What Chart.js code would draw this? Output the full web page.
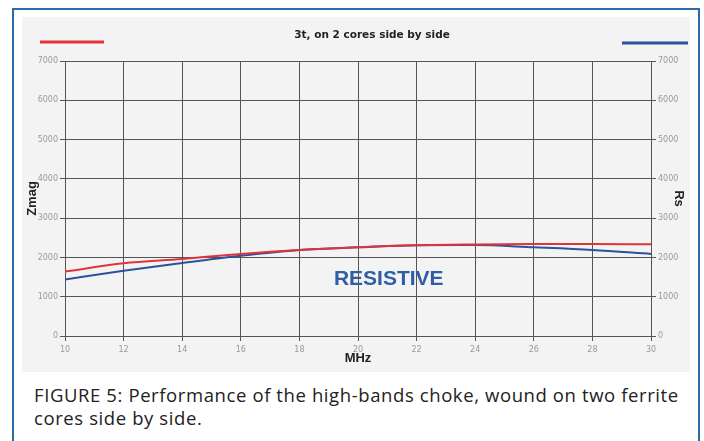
<!DOCTYPE html>
<html>
<head>
<meta charset="utf-8">
<script src="https://cdn.jsdelivr.net/npm/chart.js@4"></script>
<style>
  html, body { margin: 0; padding: 0; background: #fff; }
  body { width: 704px; height: 441px; position: relative; overflow: hidden; }
  #frame {
    position: absolute; left: 12px; top: 8px; width: 684px; height: 440px;
    border: 2px solid #2f6aa8; border-bottom: none; background: #fff;
  }
  #chart { position: absolute; left: 22px; top: 17px; background: #f3f3f3; }
  #caption {
    position: absolute; left: 34px; top: 383px; width: 660px;
    font-family: "Open Sans", Roboto, sans-serif; font-size: 18.5px;
    letter-spacing: 0.6px; line-height: 23px; color: #222;
  }
</style>
</head>
<body>
<div id="frame"></div>
<canvas id="chart" width="668" height="355"></canvas>
<div id="caption">FIGURE 5: Performance of the high-bands choke, wound on two ferrite cores side by side.</div>
<script>
// データ
const freqs = [10, 12, 14, 16, 18, 20, 22, 24, 26, 28, 30];
const zmag = [1640, 1850, 1960, 2090, 2190, 2260, 2310, 2330, 2340, 2340, 2335];
const rs = [1440, 1660, 1860, 2045, 2190, 2257, 2310, 2315, 2257, 2190, 2090];
const chartTitle = "3t, on 2 cores side by side";
const note = { text: "RESISTIVE", x: 21.05, y: 1450 };

// タイトル、凡例の線、注記を描く
const decor = {
  id: "decor",
  afterDraw(chart) {
    const ctx = chart.ctx;
    const ds = chart.data.datasets;
    ctx.save();
    ctx.fillStyle = "#222";
    ctx.font = "bold 10.5px 'DejaVu Sans'";
    ctx.textAlign = "center";
    ctx.textBaseline = "middle";
    ctx.fillText(chartTitle, 350, 18);

    ctx.lineWidth = 3;
    ctx.strokeStyle = ds[0].borderColor;
    ctx.beginPath(); ctx.moveTo(18, 25); ctx.lineTo(82, 25); ctx.stroke();
    ctx.strokeStyle = ds[1].borderColor;
    ctx.beginPath(); ctx.moveTo(600, 26); ctx.lineTo(666, 26); ctx.stroke();

    const sx = chart.scales.x, sy = chart.scales.y;
    ctx.fillStyle = "#2f5ea6";
    ctx.font = "bold 21px 'Liberation Sans'";
    ctx.fillText(note.text, sx.getPixelForValue(note.x), sy.getPixelForValue(note.y));
    ctx.restore();
  },
};

const tickFont = { family: "DejaVu Sans", size: 8 };
const titleFont = { family: "Liberation Sans", size: 13, weight: "bold" };
const gridOpts = { color: "#555", lineWidth: 1, tickLength: 5, tickColor: "#555" };
const plain = (v) => String(v);

new Chart(document.getElementById("chart"), {
  type: "line",
  data: {
    labels: freqs,
    datasets: [
      {
        label: "Zmag",
        data: freqs.map((f, i) => ({ x: f, y: zmag[i] })),
        borderColor: "#e0343c",
        borderWidth: 2,
        pointRadius: 0,
        tension: 0.4,
        cubicInterpolationMode: "monotone",
        yAxisID: "y",
      },
      {
        label: "Rs",
        data: freqs.map((f, i) => ({ x: f, y: rs[i] })),
        borderColor: "#2d519e",
        borderWidth: 2,
        pointRadius: 0,
        tension: 0.4,
        cubicInterpolationMode: "monotone",
        yAxisID: "y2",
      },
    ],
  },
  options: {
    responsive: false,
    animation: false,
    layout: { padding: { top: 44, left: 0, right: 0, bottom: 0 } },
    plugins: { legend: { display: false }, title: { display: false }, tooltip: { enabled: false } },
    scales: {
      x: {
        type: "linear", min: 10, max: 30,
        ticks: { stepSize: 2, font: tickFont, color: "#999", padding: 4, callback: plain },
        grid: gridOpts,
        border: { color: "#555" },
        title: { display: true, text: "MHz", color: "#222", font: titleFont, padding: { top: 0, bottom: 6 } },
        afterFit(s) { s.height = 36; },
      },
      y: {
        position: "left", min: 0, max: 7000,
        ticks: { stepSize: 1000, font: tickFont, color: "#999", padding: 2, callback: plain },
        grid: gridOpts,
        border: { color: "#555" },
        title: { display: true, text: "Zmag", color: "#222", font: titleFont, padding: { top: 3, bottom: 0 } },
        afterFit(s) { s.width = 43; },
      },
      y2: {
        position: "right", min: 0, max: 7000,
        ticks: { stepSize: 1000, font: tickFont, color: "#999", padding: 2, callback: plain },
        grid: { drawOnChartArea: false, tickLength: 5, tickColor: "#555" },
        border: { color: "#555" },
        title: { display: true, text: "Rs", color: "#222", font: titleFont, padding: { top: 4, bottom: 0 } },
        afterFit(s) { s.width = 39; },
      },
    },
  },
  plugins: [decor],
});
</script>
</body>
</html>
